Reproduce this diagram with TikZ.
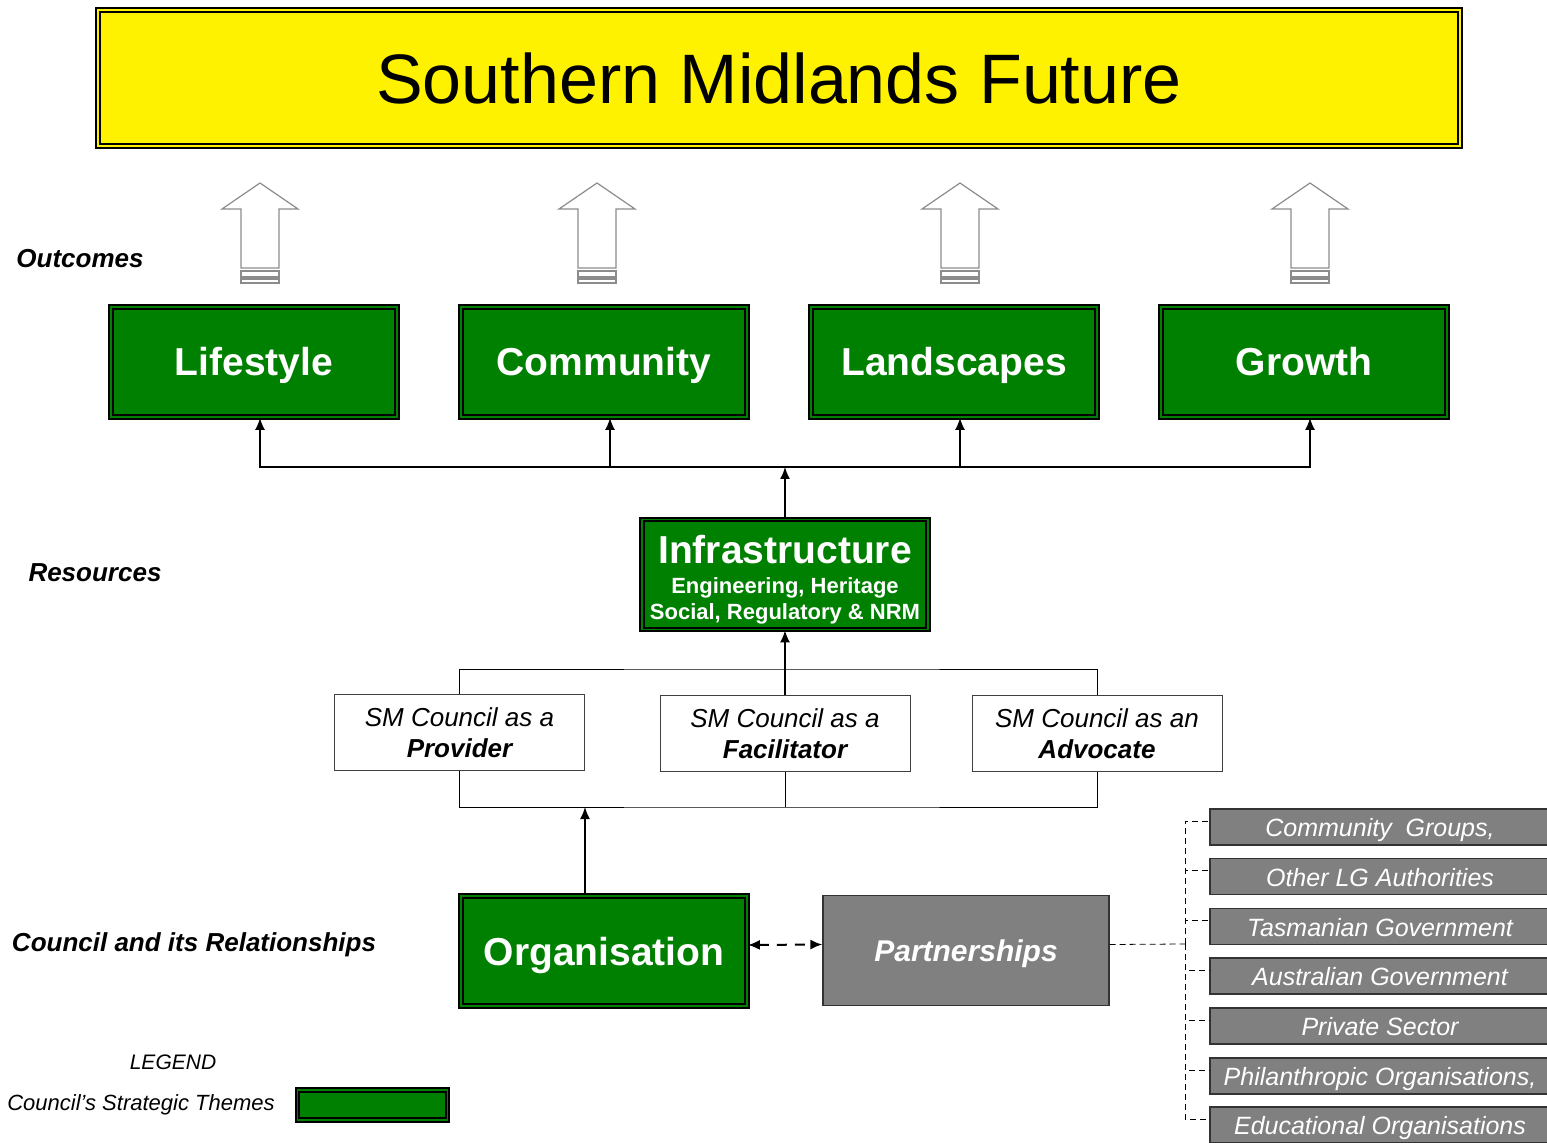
\documentclass[tikz,border=0pt]{standalone}
\usepackage{fontspec}
\setmainfont{Liberation Sans}
\usetikzlibrary{positioning,arrows.meta}
\definecolor{themegreen}{RGB}{0,128,0}
\definecolor{partnergray}{RGB}{128,128,128}

\begin{document}
\begin{tikzpicture}[x=0.5pt,y=-0.5pt,
    theme/.style={draw=black,line width=0.9pt,double=themegreen,double distance=0.9pt,fill=themegreen,text=white,
      font=\bfseries\fontsize{19.5}{23}\selectfont,inner sep=0pt,minimum width=143pt,minimum height=55pt},
    themeline/.style={theme,text height=14pt,text depth=0pt},
    role/.style={draw=black!75,fill=white,line width=0.5pt,inner sep=0pt,minimum width=125pt,minimum height=37.5pt,
      align=center,font=\itshape\fontsize{13}{15.5}\selectfont},
    partner/.style={draw=black!80,fill=partnergray,text=white,line width=0.6pt,inner sep=0pt},
    listbox/.style={partner,minimum width=170pt,minimum height=18pt,text height=9.5pt,text depth=0pt,
      font=\itshape\fontsize{12.5}{15}\selectfont},
    sidelabel/.style={font=\bfseries\itshape\fontsize{13}{15}\selectfont},
    outline/.style={draw=black!45,line width=0.6pt,fill=white},
    flow/.style={thick,-{Latex[length=6pt,width=5pt]}},
    twoway/.style={line width=1pt,dash pattern=on 5pt off 4pt,{Latex[length=6pt,width=5pt]}-{Latex[length=6pt,width=5pt]}}]
    \clip (0,0) rectangle (1547,1143);

    \node[draw=black,line width=0.8pt,double=yellow,double distance=1.2pt,fill=yellow,inner sep=0pt,
      minimum width=681pt,minimum height=68pt,font=\fontsize{35}{42}\selectfont] (title) at (779,78) {Southern Midlands Future};

    \draw[outline] (241,268) -- ++(0,-59) -- ++(-19,0) -- ++(38,-26) -- ++(38,26) -- ++(-19,0) -- ++(0,59) -- cycle;
    \draw[outline] (241,271) rectangle ++(38,6);
    \draw[outline] (241,279) rectangle ++(38,4);
    \draw[outline] (578,268) -- ++(0,-59) -- ++(-19,0) -- ++(38,-26) -- ++(38,26) -- ++(-19,0) -- ++(0,59) -- cycle;
    \draw[outline] (578,271) rectangle ++(38,6);
    \draw[outline] (578,279) rectangle ++(38,4);
    \draw[outline] (941,268) -- ++(0,-59) -- ++(-19,0) -- ++(38,-26) -- ++(38,26) -- ++(-19,0) -- ++(0,59) -- cycle;
    \draw[outline] (941,271) rectangle ++(38,6);
    \draw[outline] (941,279) rectangle ++(38,4);
    \draw[outline] (1291,268) -- ++(0,-59) -- ++(-19,0) -- ++(38,-26) -- ++(38,26) -- ++(-19,0) -- ++(0,59) -- cycle;
    \draw[outline] (1291,271) rectangle ++(38,6);
    \draw[outline] (1291,279) rectangle ++(38,4);

    \node[sidelabel] (outcomes) at (80,259) {Outcomes};
    \node[sidelabel] (resources) at (95,573) {Resources};
    \node[sidelabel] (relations) at (194,945) {Council and its Relationships};

    \node[themeline] (lifestyle) at (254,362) {Lifestyle};
    \node[themeline] (community) at (604,362) {Community};
    \node[themeline] (landscapes) at (954,362) {Landscapes};
    \node[themeline] (growth) at (1304,362) {Growth};

    \node[theme,align=center,font=\bfseries\fontsize{11}{13}\selectfont] (infra) at (785,574.5)
      {{\fontsize{19.5}{20}\selectfont\rule{0pt}{19.5pt}Infrastructure}\\[2pt]Engineering, Heritage\\Social, Regulatory \& NRM};

    \coordinate (branch) at (785,467);
    \draw[flow] (infra.north) -- (branch);
    \draw[flow] (branch) -| ([xshift=3pt]lifestyle.south);
    \draw[flow] (branch) -| ([xshift=3pt]community.south);
    \draw[flow] (branch) -| ([xshift=3pt]landscapes.south);
    \draw[flow] (branch) -| ([xshift=3pt]growth.south);

    \node[role] (provider) at (459.5,732.5) {SM Council as a\\\textbf{Provider}};
    \node[role] (facilitator) at (785,733.5) {SM Council as a\\\textbf{Facilitator}};
    \node[role] (advocate) at (1097,733.5) {SM Council as an\\\textbf{Advocate}};

    \coordinate (rolestop) at (785,669);
    \coordinate (rolesbot) at (785,807);
    \draw (provider.north) |- (rolestop) -| (advocate.north);
    \draw (provider.south) |- (rolesbot) -| (advocate.south);
    \draw (facilitator.south) -- (rolesbot);
    \draw[flow] (facilitator.north) -- (infra.south);

    \node[themeline] (org) at (604,951) {Organisation};
    \node[partner,minimum width=143pt,minimum height=55pt,text height=11pt,text depth=0pt,
      font=\bfseries\itshape\fontsize{15}{18}\selectfont] (partners) at (966,950.5) {Partnerships};

    \coordinate (orgtip) at (585,807);
    \draw[flow] (org.north -| orgtip) -- (orgtip);
    \draw[twoway] ([yshift=3pt]org.east) -- ([yshift=3pt]partners.west);

    \node[listbox] (p1) at (1380,827) {Community\ \ Groups,};
    \node[listbox] (p2) at (1380,876.5) {Other LG Authorities};
    \node[listbox] (p3) at (1380,926.5) {Tasmanian Government};
    \node[listbox] (p4) at (1380,976) {Australian Government};
    \node[listbox] (p5) at (1380,1026) {Private Sector};
    \node[listbox] (p6) at (1380,1076) {Philanthropic Organisations,};
    \node[listbox] (p7) at (1380,1125) {Educational Organisations};

    \coordinate (listbus) at (1185,944);
    \draw[densely dashed] ([yshift=3pt]partners.east) -- (listbus);
    \draw[densely dashed] (listbus) |- ([yshift=3pt]p1.west);
    \draw[densely dashed] (listbus) |- ([yshift=3pt]p2.west);
    \draw[densely dashed] (listbus) |- ([yshift=3pt]p3.west);
    \draw[densely dashed] (listbus) |- ([yshift=3pt]p4.west);
    \draw[densely dashed] (listbus) |- ([yshift=3pt]p5.west);
    \draw[densely dashed] (listbus) |- ([yshift=3pt]p6.west);
    \draw[densely dashed] (listbus) |- ([yshift=3pt]p7.west);

    \node[font=\itshape\fontsize{10.5}{13}\selectfont] (legend) at (173,1062) {LEGEND};
    \node[font=\itshape\fontsize{11}{13}\selectfont] (legendtext) at (141,1105) {Council's Strategic Themes};
    \node[theme,minimum width=75pt,minimum height=15pt] (legendbox) at (372.5,1105) {};
\end{tikzpicture}
\end{document}
